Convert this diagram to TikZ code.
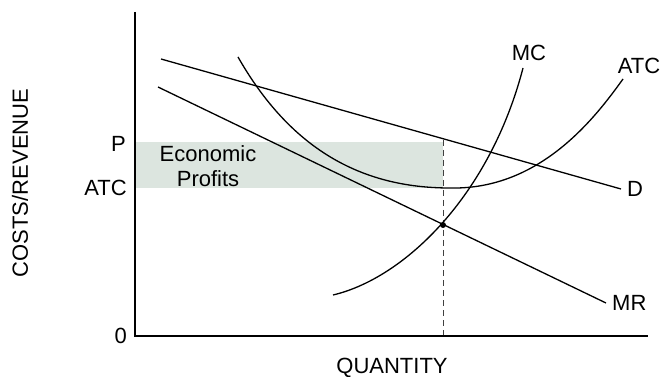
\documentclass[tikz,border=0pt]{standalone}
\usepackage{fontspec}
\setmainfont{Liberation Sans}
\usetikzlibrary{positioning}
\definecolor{profitgreen}{RGB}{220,229,223}
\tikzset{
curve/.style={line width=1.3pt}, % the cost and revenue curves
axis/.style={line width=1.3pt}, % the two axes
txt/.style={font=\fontsize{22}{25}\selectfont, inner sep=0pt}, % every text in the picture
guide/.style={dash pattern=on 6pt off 4pt, line width=0.9pt, black!75}, % the dashed line down to the quantity
}
\begin{document}
\begin{tikzpicture}[x=1pt, y=-1pt]
                \useasboundingbox (0,0) rectangle (662,377);
                \fill[profitgreen] (136,142) rectangle (443,188);
                \node[txt, align=center] (profit) at (208,166) {Economic\\Profits};
                \coordinate (origin) at (135,336);
                \coordinate (ytop) at (135,12);
                \coordinate (xend) at (648,336);
                \draw[axis] (ytop) -- (origin) -- (xend);
                \coordinate (D0) at (161,59);
                \coordinate (D1) at (621,189);
                \coordinate (MR0) at (158,87);
                \coordinate (MR1) at (606,303);
                \coordinate (top) at (443,140);
                \coordinate (eq) at (443,225);
                \coordinate (foot) at (443,335);
                \draw[guide] (top) -- (foot);
                \draw[curve] (D0) -- (D1);
                \draw[curve] (MR0) -- (MR1);
                % average total cost, down to its minimum and up again
                \draw[curve] (238,57) .. controls (290,148) and (360,188) .. (450,188)
                             .. controls (540,190) and (595,118) .. (623,79);
                % marginal cost
                \draw[curve] (333,295) .. controls (405,278) and (490,195) .. (523,68);
                \fill (eq) circle (3pt);
                \node[txt, right=6pt of D1] (D) {D};
                \node[txt, right=6pt of MR1] (MR) {MR};
                \node[txt] (MC) at (529,53) {MC};
                \node[txt] (ATC) at (639,66) {ATC};
                \node[txt, anchor=east] (P) at (126,144) {P};
                \node[txt, anchor=east] (atc) at (127,188) {ATC};
                \node[txt, anchor=east] (zero) at (127,336) {0};
                \node[txt] (qty) at (392,368) {QUANTITY};
                \node[txt, rotate=90] (cost) at (20,183) {COSTS/REVENUE};
\end{tikzpicture}
\end{document}
